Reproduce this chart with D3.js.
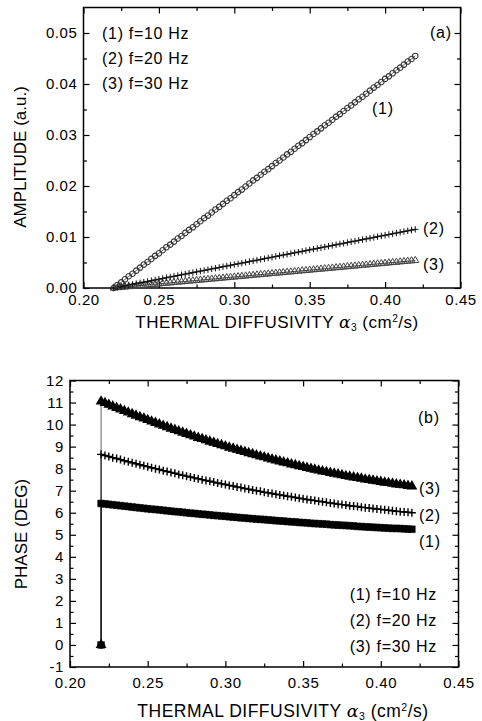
<!DOCTYPE html>
<html>
<head>
<meta charset="utf-8">
<script src="https://cdn.jsdelivr.net/npm/d3@7"></script>
<style>
  body { margin: 0; background: #fff; }
  text { font-family: "Liberation Sans", Arial, Helvetica, sans-serif; fill: #000; }
</style>
</head>
<body>
<svg id="chart" width="482" height="721"></svg>
<script>
// thermal diffusivity alpha3 (cm^2/s), shared x values
const alpha = [
  0.22,0.2225,0.225,0.2275,0.23,0.2325,0.235,0.2375,0.24,0.2425,
  0.245,0.2475,0.25,0.2525,0.255,0.2575,0.26,0.2625,0.265,0.2675,
  0.27,0.2725,0.275,0.2775,0.28,0.2825,0.285,0.2875,0.29,0.2925,
  0.295,0.2975,0.3,0.3025,0.305,0.3075,0.31,0.3125,0.315,0.3175,
  0.32,0.3225,0.325,0.3275,0.33,0.3325,0.335,0.3375,0.34,0.3425,
  0.345,0.3475,0.35,0.3525,0.355,0.3575,0.36,0.3625,0.365,0.3675,
  0.37,0.3725,0.375,0.3775,0.38,0.3825,0.385,0.3875,0.39,0.3925,
  0.395,0.3975,0.4,0.4025,0.405,0.4075,0.41,0.4125,0.415,0.4175,
  0.42
];

// panel (a): amplitude (a.u.)
const amp1 = [
  0,0.0006,0.0011,0.0017,0.0023,0.0028,0.0034,0.0040,0.0046,0.0051,
  0.0057,0.0063,0.0068,0.0074,0.0080,0.0085,0.0091,0.0097,0.0102,0.0108,
  0.0114,0.0119,0.0125,0.0131,0.0137,0.0142,0.0148,0.0154,0.0159,0.0165,
  0.0171,0.0176,0.0182,0.0188,0.0193,0.0199,0.0205,0.0211,0.0216,0.0222,
  0.0228,0.0233,0.0239,0.0245,0.0250,0.0256,0.0262,0.0267,0.0273,0.0279,
  0.0284,0.0290,0.0296,0.0302,0.0307,0.0313,0.0319,0.0324,0.0330,0.0336,
  0.0341,0.0347,0.0353,0.0358,0.0364,0.0370,0.0375,0.0381,0.0387,0.0393,
  0.0398,0.0404,0.0410,0.0415,0.0421,0.0427,0.0432,0.0438,0.0444,0.0449,
  0.0455
];
const amp2 = [
  0,0.00014,0.00029,0.00043,0.00058,0.00072,0.00086,0.00101,0.00115,0.00129,
  0.00144,0.00158,0.00173,0.00187,0.00201,0.00216,0.00230,0.00244,0.00259,0.00273,
  0.00288,0.00302,0.00316,0.00331,0.00345,0.00359,0.00374,0.00388,0.00403,0.00417,
  0.00431,0.00446,0.00460,0.00474,0.00489,0.00503,0.00518,0.00532,0.00546,0.00561,
  0.00575,0.00589,0.00604,0.00618,0.00633,0.00647,0.00661,0.00676,0.00690,0.00704,
  0.00719,0.00733,0.00748,0.00762,0.00776,0.00791,0.00805,0.00819,0.00834,0.00848,
  0.00863,0.00877,0.00891,0.00906,0.00920,0.00934,0.00949,0.00963,0.00978,0.00992,
  0.01006,0.01021,0.01035,0.01049,0.01064,0.01078,0.01093,0.01107,0.01121,0.01136,
  0.01150
];
const amp3 = [
  0,0.00007,0.00014,0.00020,0.00027,0.00034,0.00041,0.00047,0.00054,0.00061,
  0.00068,0.00074,0.00081,0.00088,0.00095,0.00101,0.00108,0.00115,0.00122,0.00128,
  0.00135,0.00142,0.00149,0.00155,0.00162,0.00169,0.00176,0.00182,0.00189,0.00196,
  0.00203,0.00209,0.00216,0.00223,0.00230,0.00236,0.00243,0.00250,0.00257,0.00263,
  0.00270,0.00277,0.00284,0.00290,0.00297,0.00304,0.00311,0.00317,0.00324,0.00331,
  0.00338,0.00344,0.00351,0.00358,0.00365,0.00371,0.00378,0.00385,0.00392,0.00398,
  0.00405,0.00412,0.00419,0.00425,0.00432,0.00439,0.00446,0.00452,0.00459,0.00466,
  0.00473,0.00479,0.00486,0.00493,0.00500,0.00506,0.00513,0.00520,0.00527,0.00533,
  0.00540
];

// panel (b): phase (deg); the first point is the zero at alpha = 0.22
const phaseAlpha = [0.22].concat(alpha);
const phase1 = [0,
  6.42,6.40,6.38,6.36,6.34,6.32,6.30,6.28,6.26,6.24,
  6.22,6.20,6.18,6.16,6.15,6.13,6.11,6.09,6.07,6.05,
  6.04,6.02,6.00,5.98,5.97,5.95,5.93,5.92,5.90,5.88,
  5.87,5.85,5.84,5.82,5.80,5.79,5.77,5.76,5.74,5.73,
  5.71,5.70,5.69,5.67,5.66,5.64,5.63,5.62,5.60,5.59,
  5.58,5.56,5.55,5.54,5.52,5.51,5.50,5.49,5.48,5.46,
  5.45,5.44,5.43,5.42,5.41,5.40,5.38,5.37,5.36,5.35,
  5.34,5.33,5.32,5.31,5.30,5.29,5.29,5.28,5.27,5.26,
  5.25
];
const phase2 = [0,
  8.65,8.60,8.55,8.50,8.46,8.41,8.36,8.31,8.27,8.22,
  8.18,8.13,8.09,8.04,8.00,7.96,7.91,7.87,7.83,7.79,
  7.74,7.70,7.66,7.62,7.58,7.54,7.50,7.46,7.43,7.39,
  7.35,7.31,7.28,7.24,7.21,7.17,7.14,7.10,7.07,7.03,
  7.00,6.97,6.93,6.90,6.87,6.84,6.81,6.78,6.75,6.72,
  6.69,6.66,6.63,6.60,6.58,6.55,6.52,6.50,6.47,6.44,
  6.42,6.39,6.37,6.35,6.32,6.30,6.28,6.25,6.23,6.21,
  6.19,6.17,6.15,6.13,6.11,6.09,6.07,6.05,6.03,6.02,
  6.00
];
const phase3 = [0,
  11.05,10.98,10.90,10.83,10.76,10.69,10.62,10.55,10.48,10.41,
  10.34,10.28,10.21,10.14,10.08,10.01,9.95,9.89,9.82,9.76,
  9.70,9.64,9.58,9.52,9.46,9.40,9.35,9.29,9.23,9.18,
  9.12,9.07,9.02,8.96,8.91,8.86,8.81,8.76,8.71,8.66,
  8.61,8.56,8.52,8.47,8.42,8.38,8.33,8.29,8.25,8.20,
  8.16,8.12,8.08,8.04,8.00,7.96,7.92,7.88,7.85,7.81,
  7.78,7.74,7.71,7.67,7.64,7.61,7.58,7.55,7.51,7.49,
  7.46,7.43,7.40,7.37,7.35,7.32,7.29,7.27,7.25,7.22,
  7.20
];

// ticks and labels
const xTicks = [0.20, 0.25, 0.30, 0.35, 0.40, 0.45];
const xMinor = [0.225, 0.275, 0.325, 0.375, 0.425];
const ampTicks = [0, 0.01, 0.02, 0.03, 0.04, 0.05];
const ampMinor = [0.005, 0.015, 0.025, 0.035, 0.045];
const phaseTicks = [-1, 0, 1, 2, 3, 4, 5, 6, 7, 8, 9, 10, 11, 12];
const phaseMinor = [-0.5, 0.5, 1.5, 2.5, 3.5, 4.5, 5.5, 6.5, 7.5, 8.5, 9.5, 10.5, 11.5];
const legendLabels = ["(1) f=10 Hz", "(2) f=20 Hz", "(3) f=30 Hz"];
const curveLabels = ["(1)", "(2)", "(3)"];

const svg = d3.select("#chart");

const plusPath = s => `M${-s},0H${s}M0,${-s}V${s}`;

function frame(x, y, yTicks, yMinorTicks, yFmt, fs, xPad) {
  const [x0, x1] = x.range();
  const [y0, y1] = y.range();
  const g = svg.append("g");
  const put = (gen, tx, ty) => {
    const a = g.append("g").attr("transform", `translate(${tx},${ty})`).call(gen);
    a.select(".domain").remove();
    a.selectAll("line").attr("stroke-width", 1.2);
    a.selectAll("text").attr("font-size", fs).attr("font-family", null)
      .attr("letter-spacing", 0.6);
    return a;
  };
  put(d3.axisBottom(x).tickValues(xTicks).tickSize(-6).tickPadding(xPad).tickFormat(d3.format(".2f")), 0, y0);
  put(d3.axisBottom(x).tickValues(xMinor).tickSize(-3.5).tickFormat(""), 0, y0);
  put(d3.axisTop(x).tickValues(xTicks).tickSize(-6).tickFormat(""), 0, y1);
  put(d3.axisTop(x).tickValues(xMinor).tickSize(-3.5).tickFormat(""), 0, y1);
  put(d3.axisLeft(y).tickValues(yTicks).tickSize(-6).tickPadding(6).tickFormat(yFmt), x0, 0);
  put(d3.axisLeft(y).tickValues(yMinorTicks).tickSize(-3.5).tickFormat(""), x0, 0);
  put(d3.axisRight(y).tickValues(yTicks).tickSize(-6).tickFormat(""), x1, 0);
  put(d3.axisRight(y).tickValues(yMinorTicks).tickSize(-3.5).tickFormat(""), x1, 0);
  g.append("rect")
    .attr("x", x0).attr("y", y1)
    .attr("width", x1 - x0).attr("height", y0 - y1)
    .attr("fill", "none").attr("stroke", "#000").attr("stroke-width", 1.5);
  return g;
}

function series(x, y, xs, ys, m) {
  const pts = xs.map((a, i) => [a, ys[i]]);
  const g = svg.append("g");
  g.append("path")
    .attr("d", d3.line().x(d => x(d[0])).y(d => y(d[1]))(pts))
    .attr("fill", "none").attr("stroke", m.line).attr("stroke-width", 0.9);
  g.selectAll("path.m")
    .data(pts)
    .join("path")
    .attr("class", "m")
    .attr("transform", d => `translate(${x(d[0])},${y(d[1])})`)
    .attr("d", m.d)
    .attr("fill", m.fill)
    .attr("stroke", m.stroke)
    .attr("stroke-width", m.sw);
}

function xTitle(cx, by, fs) {
  const t = svg.append("text").attr("x", cx).attr("y", by)
    .attr("text-anchor", "middle").attr("font-size", fs).attr("letter-spacing", 0.5);
  t.append("tspan").text("THERMAL DIFFUSIVITY  ");
  t.append("tspan").attr("font-family", "'DejaVu Serif', serif").attr("font-style", "italic").text("α");
  t.append("tspan").attr("font-size", fs * 0.6).attr("dy", 3).text("3");
  t.append("tspan").attr("dy", -3).text(" (cm");
  t.append("tspan").attr("font-size", fs * 0.6).attr("dy", -6).text("2");
  t.append("tspan").attr("dy", 6).text("/s)");
}

function yTitle(cx, cy, fs, label) {
  svg.append("text")
    .attr("transform", `translate(${cx},${cy}) rotate(-90)`)
    .attr("text-anchor", "middle").attr("font-size", fs)
    .text(label);
}

function label(x, y, s, anchor) {
  svg.append("text").attr("x", x).attr("y", y)
    .attr("text-anchor", anchor || "start")
    .attr("font-size", 16).attr("letter-spacing", 0.7).text(s);
}

// ---------- panel (a) ----------
const xa = d3.scaleLinear().domain([0.2, 0.45]).range([83.5, 460.5]);
const ya = d3.scaleLinear().domain([0, 0.055]).range([288, 7.5]);

frame(xa, ya, ampTicks, ampMinor, d3.format(".2f"), 15, 6);

series(xa, ya, alpha, amp3, {
  d: d3.symbol(d3.symbolTriangle, 22)(), fill: "none", stroke: "#444", sw: 1, line: "#222"
});
series(xa, ya, alpha, amp2, {
  d: plusPath(3.2), fill: "none", stroke: "#111", sw: 1, line: "#000"
});
series(xa, ya, alpha, amp1, {
  d: d3.symbol(d3.symbolCircle, 24)(), fill: "none", stroke: "#333", sw: 1.1, line: "#444"
});

legendLabels.forEach((s, i) => label(102, 39 + i * 25, s));
label(430, 38, "(a)");
[[372, 114], [423, 234], [423, 270]].forEach((p, i) => label(p[0], p[1], curveLabels[i]));
xTitle(277, 328, 17);
yTitle(26, 157, 17, "AMPLITUDE (a.u.)");

// ---------- panel (b) ----------
const xb = d3.scaleLinear().domain([0.2, 0.45]).range([70, 458.5]);
const yb = d3.scaleLinear().domain([-1, 12]).range([667, 380.5]);

frame(xb, yb, phaseTicks, phaseMinor, d => String(d), 15, 10);

series(xb, yb, phaseAlpha, phase3, {
  d: d3.symbol(d3.symbolTriangle, 32)(), fill: "#000", stroke: "#000", sw: 1.3, line: "#555"
});
series(xb, yb, phaseAlpha, phase2, {
  d: plusPath(4), fill: "none", stroke: "#000", sw: 1.4, line: "#000"
});
series(xb, yb, phaseAlpha, phase1, {
  d: d3.symbol(d3.symbolSquare, 46)(), fill: "#000", stroke: "#000", sw: 0.5, line: "#000"
});

label(418, 423, "(b)");
[[419, 547], [419, 521], [419, 494]].forEach((p, i) => label(p[0], p[1], curveLabels[i]));
legendLabels.forEach((s, i) => label(437, 600 + i * 26, s, "end"));
xTitle(283, 717, 17.5);
yTitle(27, 534, 17, "PHASE (DEG)");
</script>
</body>
</html>
